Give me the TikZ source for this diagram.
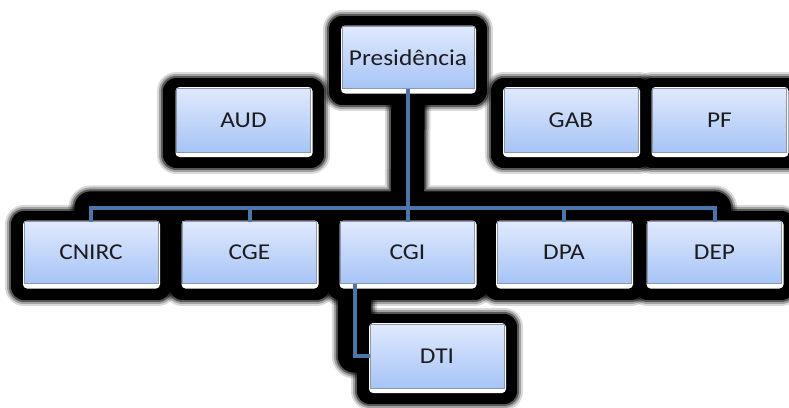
\documentclass[tikz,border=0pt]{standalone}
\usepackage{fontspec}
\setmainfont{Carlito}[FakeStretch=1.12]
\usepackage{tikz}
\usetikzlibrary{calc}

\definecolor{boxtop}{RGB}{224,233,253}
\definecolor{boxbot}{RGB}{166,196,246}
\definecolor{boxline}{RGB}{140,152,172}
\definecolor{linkblue}{RGB}{74,118,172}
\definecolor{txtgray}{RGB}{28,28,28}

\pgfdeclarelayer{paper}
\pgfdeclarelayer{halo}
\pgfdeclarelayer{rim}
\pgfsetlayers{paper,halo,rim,main}

\tikzset{
  unit/.style={draw=boxline, line width=0.6pt, top color=boxtop, bottom color=boxbot,
    minimum width=100.5pt, minimum height=46.5pt, inner sep=0pt, outer sep=0pt,
    text=txtgray, font=\fontsize{17}{20}\selectfont},
  link/.style={draw=linkblue, line width=3pt},
  glow/.style={draw=black, line join=round, line cap=round},
  rimbox/.style={fill=white, rounded corners=3pt},
}

\begin{document}
\begin{tikzpicture}[x=0.75pt,y=0.75pt,yscale=-1,xscale=1]
\begin{pgfonlayer}{paper}
\fill[white] (0,0) rectangle (789,407);
\end{pgfonlayer}
\useasboundingbox (0,0) rectangle (789,407);

% Top row
\node[unit, minimum width=99pt] (pres) at (408,57.5) {Presidência};
\node[unit, minimum height=48pt] (aud) at (243.5,120) {AUD};
\node[unit, minimum height=48pt] (gab) at (571,120) {GAB};
\node[unit, minimum height=48pt] (pf) at (719.5,120) {PF};
% Second row
\node[unit] (cnirc) at (91,252.5) {CNIRC};
\node[unit] (cge) at (249.5,252.5) {CGE};
\node[unit] (cgi) at (407.5,252.5) {CGI};
\node[unit] (dpa) at (564,252.5) {DPA};
\node[unit] (dep) at (714.5,252.5) {DEP};
% Third row
\node[unit, minimum height=48pt] (dti) at (437,356) {DTI};

\coordinate (bus) at (407.5,208);

% Connectors
\foreach \n in {cnirc,cge,cgi,dpa,dep}
  \draw[link] (pres.south) |- (\n.north |- bus) -- (\n.north);
\draw[link] ($(cgi.south west)+(14,0)$) |- (dti.west);

% Black glow
\begin{pgfonlayer}{halo}
\foreach \w/\o in {29pt/.15,26pt/.25,23pt/.45,20pt/1} {
  \foreach \n in {pres,aud,gab,pf,cnirc,cge,cgi,dpa,dep,dti}
    \draw[glow, line width=\w, opacity=\o] ($(\n.north west)+(0,3)$) rectangle ($(\n.south east)+(0,3)$);
  \draw[glow, line width=\w+5pt, opacity=\o] (pres.south) -- (bus)
    (cnirc.north |- bus) -- (dep.north |- bus)
    ($(cgi.south west)+(14,0)$) |- (dti.west);
}
\end{pgfonlayer}

% White rims
\begin{pgfonlayer}{rim}
\foreach \n in {pres,aud,gab,pf,cnirc,cge,cgi,dpa,dep,dti}
  \fill[rimbox] ($(\n.north west)+(-1,-1)$) rectangle ($(\n.south east)+(2,5)$);
\end{pgfonlayer}
\end{tikzpicture}
\end{document}
